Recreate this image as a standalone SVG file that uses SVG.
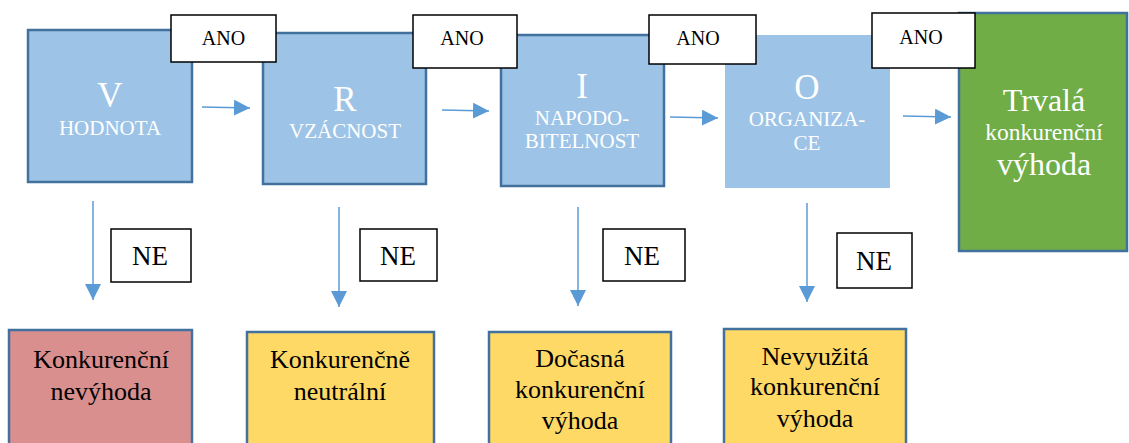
<svg xmlns="http://www.w3.org/2000/svg" width="1129" height="443" viewBox="0 0 1129 443">
<style>
.blue{fill:#9DC3E6;stroke:#41719C;stroke-width:2.5}
.blue2{fill:#9DC3E6;stroke:none}
.lbl{fill:#fff;stroke:#000;stroke-width:1.5}
.green{fill:#70AD47;stroke:#41719C;stroke-width:2.5}
.red{fill:#DA8F8F;stroke:#41719C;stroke-width:2.5}
.yel{fill:#FFD966;stroke:#41719C;stroke-width:2.5}
.w{fill:#fff}
.k{fill:#000}
.con{stroke:#5B9BD5;stroke-width:1.5;fill:none}
</style>
<defs>
<marker id="ah" viewBox="0 0 10 10" refX="10" refY="5" markerWidth="16" markerHeight="16" markerUnits="userSpaceOnUse" orient="auto">
<path d="M0,0 L10,5 L0,10 Z" fill="#5B9BD5"/>
</marker>
</defs>
<g id="connectors">
<line class="con" x1="202" y1="107" x2="250" y2="108" marker-end="url(#ah)"/>
<line class="con" x1="442" y1="110" x2="489" y2="111" marker-end="url(#ah)"/>
<line class="con" x1="670" y1="117" x2="718" y2="118" marker-end="url(#ah)"/>
<line class="con" x1="903" y1="116" x2="951" y2="117" marker-end="url(#ah)"/>
<line class="con" x1="93" y1="201" x2="93" y2="300" marker-end="url(#ah)"/>
<line class="con" x1="339" y1="207" x2="339" y2="307" marker-end="url(#ah)"/>
<line class="con" x1="578" y1="207" x2="578" y2="306" marker-end="url(#ah)"/>
<line class="con" x1="807" y1="203" x2="807" y2="302" marker-end="url(#ah)"/>
</g>
<g font-family="'Liberation Serif', serif" text-anchor="middle">
<g id="nodeV">
<rect class="blue" x="28" y="30" width="164" height="152"/>
<text class="w" font-size="35" x="110" y="107">V</text>
<text class="w" font-size="21" x="110" y="135">HODNOTA</text>
</g>
<g id="nodeR">
<rect class="blue" x="263" y="33" width="163" height="151"/>
<text class="w" font-size="35" x="345" y="111">R</text>
<text class="w" font-size="21" x="345" y="138">VZÁCNOST</text>
</g>
<g id="nodeI">
<rect class="blue" x="501" y="35" width="163" height="151"/>
<text class="w" font-size="35" x="582" y="98">I</text>
<text class="w" font-size="21" x="582" y="125">NAPODO-</text>
<text class="w" font-size="21" x="582" y="148">BITELNOST</text>
</g>
<g id="nodeO">
<rect class="blue2" x="725" y="35" width="165" height="153"/>
<text class="w" font-size="35" x="807" y="99">O</text>
<text class="w" font-size="21" x="807" y="126">ORGANIZA-</text>
<text class="w" font-size="21" x="807" y="150">CE</text>
</g>
<g id="nodeT">
<rect class="green" x="959" y="13" width="168" height="238"/>
<text class="w" x="1044" y="111" font-size="32">Trvalá</text>
<text class="w" x="1044" y="140" font-size="23.5">konkurenční</text>
<text class="w" x="1044" y="175" font-size="32">výhoda</text>
</g>
<g id="ano1"><rect class="lbl" x="171" y="15" width="105" height="47"/><text class="k" font-size="20" x="223.5" y="45">ANO</text></g>
<g id="ano2"><rect class="lbl" x="413" y="15" width="104" height="53"/><text class="k" font-size="20" x="462" y="45">ANO</text></g>
<g id="ano3"><rect class="lbl" x="649" y="15" width="107" height="49"/><text class="k" font-size="20" x="698" y="45">ANO</text></g>
<g id="ano4"><rect class="lbl" x="872" y="13" width="103" height="55"/><text class="k" font-size="20" x="921" y="44">ANO</text></g>
<g id="ne1"><rect class="lbl" x="111" y="229" width="80" height="53"/><text class="k" font-size="27" x="150" y="265">NE</text></g>
<g id="ne2"><rect class="lbl" x="360" y="229" width="77" height="52"/><text class="k" font-size="27" x="398" y="265">NE</text></g>
<g id="ne3"><rect class="lbl" x="603" y="229" width="82" height="52"/><text class="k" font-size="27" x="642" y="265">NE</text></g>
<g id="ne4"><rect class="lbl" x="837" y="233" width="75" height="55"/><text class="k" font-size="27" x="874" y="270">NE</text></g>
<g id="nodeNevyhoda">
<rect class="red" x="9" y="330" width="183" height="130"/>
<text class="k" font-size="26" x="101" y="368">Konkurenční</text>
<text class="k" font-size="26" x="101" y="400">nevýhoda</text>
</g>
<g id="nodeNeutralni">
<rect class="yel" x="247" y="332" width="187" height="130"/>
<text class="k" font-size="26" x="340" y="368">Konkurenčně</text>
<text class="k" font-size="26" x="340" y="400">neutrální</text>
</g>
<g id="nodeDocasna">
<rect class="yel" x="489" y="332" width="182" height="130"/>
<text class="k" font-size="26" x="580" y="367">Dočasná</text>
<text class="k" font-size="26" x="580" y="398">konkurenční</text>
<text class="k" font-size="26" x="580" y="429">výhoda</text>
</g>
<g id="nodeNevyuzita">
<rect class="yel" x="724" y="329" width="182" height="130"/>
<text class="k" font-size="26" x="815" y="365">Nevyužitá</text>
<text class="k" font-size="26" x="815" y="395">konkurenční</text>
<text class="k" font-size="26" x="815" y="427">výhoda</text>
</g>
</g>
</svg>
